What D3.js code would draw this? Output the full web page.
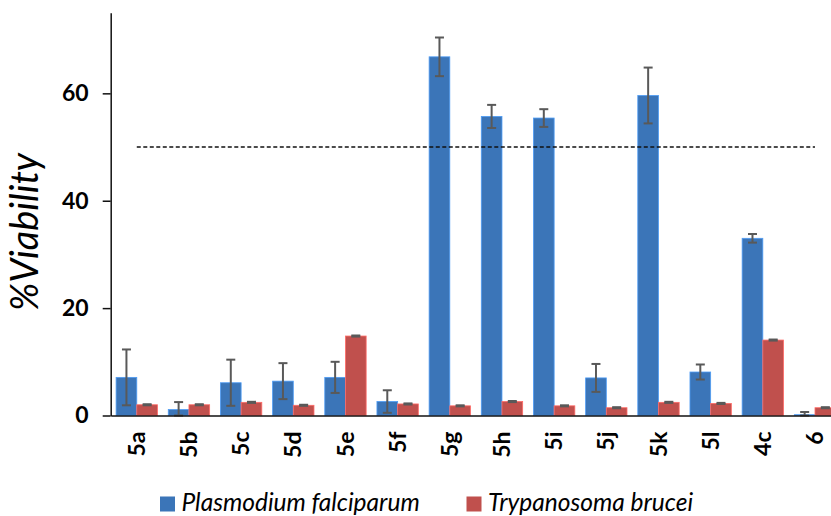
<!DOCTYPE html>
<html>
<head>
<meta charset="utf-8">
<script src="https://cdn.jsdelivr.net/npm/d3@7/dist/d3.min.js"></script>
<style>
  html, body { margin: 0; padding: 0; background: #fff; }
  svg { display: block; }
</style>
</head>
<body>
<svg id="chart" width="831" height="516"></svg>
<script>
// Compounds tested
const categories = ["5a","5b","5c","5d","5e","5f","5g","5h","5i","5j","5k","5l","4c","6"];
// Viability (%) against each parasite, with standard deviation
const pfValues = [7.1, 1.1, 6.1, 6.4, 7.1, 2.6, 66.8, 55.7, 55.4, 7.0, 59.6, 8.1, 33.0, 0.15];
const pfErrors = [5.2, 1.4, 4.3, 3.35, 2.9, 2.1, 3.6, 2.15, 1.65, 2.6, 5.2, 1.4, 0.8, 0.5];
const tbValues = [2.0, 2.0, 2.45, 1.9, 14.8, 2.15, 1.8, 2.6, 1.8, 1.45, 2.45, 2.25, 14.05, 1.45];
const tbErrors = [0.1, 0.1, 0.1, 0.1, 0.1, 0.1, 0.1, 0.1, 0.1, 0.1, 0.1, 0.1, 0.1, 0.1];
const seriesNames = ["Plasmodium falciparum", "Trypanosoma brucei"];
const seriesColors = ["#3b75b8", "#c0504d"];
const yTicks = [0, 20, 40, 60];
const threshold = 50;

const series = [
  { name: seriesNames[0], color: seriesColors[0], values: pfValues, errors: pfErrors },
  { name: seriesNames[1], color: seriesColors[1], values: tbValues, errors: tbErrors }
];

const svg = d3.select("#chart");
const x0 = 110.7, step = 52.17;

const x = d3.scaleBand()
  .domain(categories)
  .range([x0, x0 + step * categories.length])
  .paddingInner(0.207)
  .paddingOuter(0.1035);

const xSub = d3.scaleBand()
  .domain(series.map(s => s.name))
  .range([0, x.bandwidth()]);

const y = d3.scaleLinear().domain([0, 75]).range([415.5, 12.8]);

// bars
series.forEach(s => {
  svg.append("g").selectAll("rect")
    .data(categories.map((c, i) => ({ c, v: s.values[i], e: s.errors[i] })))
    .join("rect")
    .attr("x", d => x(d.c) + xSub(s.name))
    .attr("y", d => y(d.v))
    .attr("width", xSub.bandwidth())
    .attr("height", d => y(0) - y(d.v))
    .attr("fill", s.color)
    .attr("stroke", d3.color(s.color).brighter(0.8))
    .attr("stroke-width", 0.8);
});

// error bars
series.forEach(s => {
  const g = svg.append("g").attr("stroke", "#595959").attr("stroke-width", 2).attr("fill", "none");
  categories.forEach((c, i) => {
    const cx = x(c) + xSub(s.name) + xSub.bandwidth() / 2;
    const hi = y(s.values[i] + s.errors[i]);
    const lo = y(Math.max(s.values[i] - s.errors[i], 0));
    g.append("line").attr("x1", cx).attr("x2", cx).attr("y1", hi).attr("y2", lo);
    g.append("line").attr("x1", cx - 4.5).attr("x2", cx + 4.5).attr("y1", hi).attr("y2", hi);
    g.append("line").attr("x1", cx - 4.5).attr("x2", cx + 4.5).attr("y1", lo).attr("y2", lo);
  });
});

// 50% threshold line
svg.append("line")
  .attr("x1", x(categories[0]) + x.bandwidth() / 2)
  .attr("x2", x(categories[categories.length - 1]) + x.bandwidth() / 2)
  .attr("y1", y(threshold)).attr("y2", y(threshold))
  .attr("stroke", "#111").attr("stroke-width", 1.5)
  .attr("stroke-dasharray", "4,2.5");

// y axis
const yAxis = svg.append("g")
  .attr("transform", `translate(${x0},0)`)
  .call(d3.axisLeft(y).tickValues(yTicks).tickSize(8).tickSizeOuter(0).tickPadding(14));
yAxis.select(".domain").attr("stroke", "#111").attr("stroke-width", 1.5);
yAxis.selectAll(".tick line").attr("stroke", "#111").attr("stroke-width", 1.5);
yAxis.selectAll(".tick text")
  .attr("font-family", "Lato, sans-serif")
  .attr("font-weight", "bold")
  .attr("font-size", 23)
  .attr("fill", "#000");

// x axis baseline and category labels
const xAxis = svg.append("g")
  .attr("transform", `translate(0,${y(0)})`)
  .call(d3.axisBottom(x).tickSize(0).tickSizeOuter(0).tickPadding(0));
xAxis.select(".domain").attr("stroke", "#111").attr("stroke-width", 1.5);
xAxis.selectAll(".tick text")
  .attr("font-family", "Lato, sans-serif")
  .attr("font-weight", "bold")
  .attr("font-size", 23)
  .attr("fill", "#000")
  .attr("text-anchor", "end")
  .attr("dy", "0.35em")
  .attr("transform", "translate(0,16) rotate(-90)");

// y axis title
svg.append("text")
  .attr("transform", "translate(38,232) rotate(-90)")
  .attr("text-anchor", "middle")
  .attr("font-family", "Lato, sans-serif")
  .attr("font-style", "italic")
  .attr("font-size", 38)
  .attr("fill", "#000")
  .text("%Viability");

// legend
const legendX = [160, 466.5];
series.forEach((s, i) => {
  const g = svg.append("g").attr("transform", `translate(${legendX[i]},0)`);
  g.append("rect").attr("x", 0).attr("y", 496.5).attr("width", 15).attr("height", 15).attr("fill", s.color);
  g.append("text")
    .attr("x", 21.5).attr("y", 510.5)
    .attr("font-family", "Lato, sans-serif")
    .attr("font-style", "italic")
    .attr("font-size", 24.5)
    .attr("fill", "#000")
    .text(s.name);
});
</script>
</body>
</html>
